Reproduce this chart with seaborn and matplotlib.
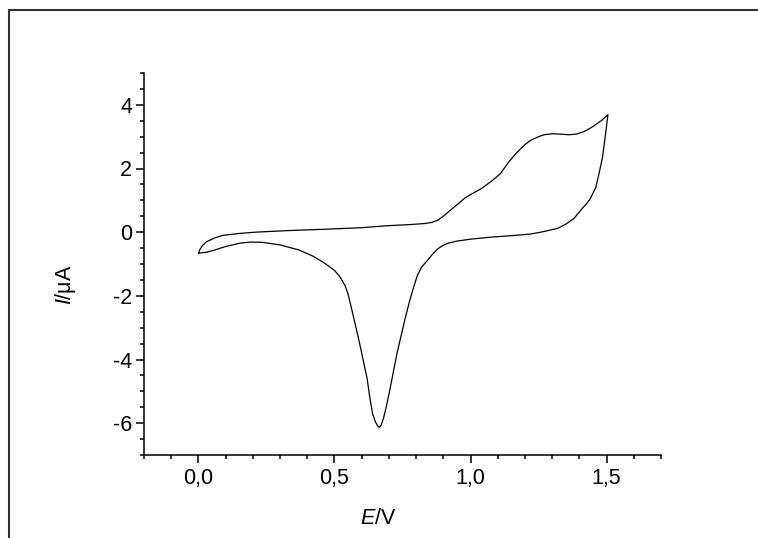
import matplotlib
matplotlib.use("Agg")
import matplotlib.pyplot as plt
from matplotlib.lines import Line2D
from matplotlib.ticker import MultipleLocator, FuncFormatter
import seaborn as sns
import pandas as pd

# Forward scan (anodic), E in V, I in µA
E_forward = [0.0, 0.005, 0.015, 0.03, 0.06, 0.09, 0.15, 0.21, 0.33, 0.46, 0.6, 0.69,
             0.78, 0.83, 0.86, 0.88, 0.9, 0.93, 0.96, 0.98, 1.0, 1.04, 1.08, 1.11, 1.14,
             1.17, 1.2, 1.22, 1.25, 1.27, 1.3, 1.33, 1.36, 1.39, 1.42, 1.45, 1.48, 1.505]
I_forward = [-0.66, -0.55, -0.42, -0.3, -0.18, -0.1, -0.04, 0.0, 0.05, 0.09, 0.14, 0.2,
             0.24, 0.27, 0.31, 0.38, 0.5, 0.72, 0.93, 1.08, 1.18, 1.37, 1.62, 1.84, 2.2,
             2.5, 2.75, 2.88, 3.0, 3.06, 3.09, 3.08, 3.06, 3.08, 3.17, 3.32, 3.5, 3.69]
# Reverse scan (cathodic)
E_reverse = [1.505, 1.495, 1.485, 1.47, 1.46, 1.44, 1.425, 1.41, 1.38, 1.35, 1.32, 1.27,
             1.22, 1.15, 1.07, 1.0, 0.95, 0.92, 0.9, 0.88, 0.86, 0.84, 0.82, 0.805, 0.79,
             0.775, 0.76, 0.745, 0.73, 0.715, 0.7, 0.69, 0.68, 0.672, 0.665, 0.658, 0.65,
             0.64, 0.63, 0.62, 0.605, 0.59, 0.575, 0.56, 0.55, 0.54, 0.52, 0.5, 0.46, 0.42,
             0.37, 0.3, 0.235, 0.19, 0.15, 0.1, 0.06, 0.03, 0.0]
I_reverse = [3.69, 3.0, 2.35, 1.75, 1.4, 1.05, 0.88, 0.74, 0.43, 0.25, 0.12, 0.02,
             -0.06, -0.11, -0.16, -0.22, -0.28, -0.34, -0.41, -0.52, -0.7, -0.9, -1.1, -1.35,
             -1.75, -2.2, -2.7, -3.25, -3.8, -4.45, -5.1, -5.5, -5.85, -6.05, -6.13, -6.08,
             -5.95, -5.7, -5.2, -4.6, -4.0, -3.4, -2.85, -2.3, -1.95, -1.7, -1.4, -1.2,
             -0.95, -0.75, -0.56, -0.4, -0.32, -0.31, -0.35, -0.45, -0.56, -0.63, -0.66]

E_all = E_forward + E_reverse[1:]
I_all = I_forward + I_reverse[1:]
df = pd.DataFrame({"E": E_all, "I": I_all})

sns.set_theme(style="ticks")
plt.rcParams["font.family"] = ["Liberation Sans", "DejaVu Sans"]
plt.rcParams["mathtext.fontset"] = "custom"
plt.rcParams["mathtext.it"] = "Liberation Sans:italic"
plt.rcParams["mathtext.rm"] = "Liberation Sans"

fig = plt.figure(figsize=(7.58, 5.38), dpi=100)
ax = fig.add_axes([144/758, 83/538, 517/758, 382/538])

sns.lineplot(data=df, x="E", y="I", sort=False, estimator=None, color="black",
             linewidth=0.9, ax=ax)

ax.set_xlim(-0.2, 1.7)
ax.set_ylim(-7, 5)
ax.xaxis.set_major_locator(MultipleLocator(0.5))
ax.xaxis.set_minor_locator(MultipleLocator(0.1))
ax.yaxis.set_major_locator(MultipleLocator(2))
ax.yaxis.set_minor_locator(MultipleLocator(0.5))
ax.xaxis.set_major_formatter(FuncFormatter(lambda v, p: f"{v:.1f}".replace(".", ",")))
ax.yaxis.set_major_formatter(FuncFormatter(lambda v, p: f"{v:.0f}"))

for s in ["top", "right"]:
    ax.spines[s].set_visible(False)
for s in ["left", "bottom"]:
    ax.spines[s].set_linewidth(1.1)
    ax.spines[s].set_color("black")

ax.tick_params(which="major", direction="out", length=5.5, width=1.1, color="black",
               labelsize=15.5, pad=3, labelcolor="black")
ax.tick_params(which="minor", direction="out", length=3, width=1.1, color="black")
ax.tick_params(axis="x", which="major", pad=4)

ax.set_xlabel("$\\mathit{E}$/V", fontsize=15.5, color="black")
ax.set_ylabel("$\\mathit{I}$/\u03bcA", fontsize=15.5, color="black")
ax.xaxis.set_label_coords(0.453, -0.139)
ax.yaxis.set_label_coords(-0.128, 0.445)

# outer frame lines (top and left)
fig.add_artist(Line2D([9/758, 1.0], [1 - 10/538, 1 - 10/538], transform=fig.transFigure,
                      color="#333333", linewidth=1.5))
fig.add_artist(Line2D([9/758, 9/758], [0.0, 1 - 10/538], transform=fig.transFigure,
                      color="#333333", linewidth=1.5))

fig.savefig("out.png", dpi=100)
